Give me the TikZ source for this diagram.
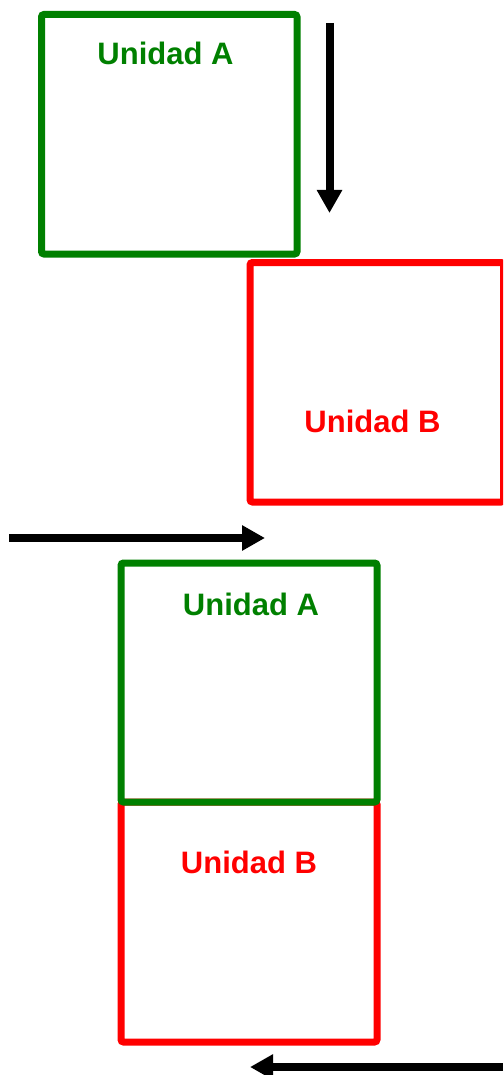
\documentclass[tikz,border=0pt]{standalone}
\usepackage{fontspec}
\setmainfont{Liberation Sans}
\usetikzlibrary{arrows.meta}
\definecolor{boxgreen}{HTML}{008000}
\definecolor{boxred}{HTML}{FF0000}
\tikzset{
  unitbox/.style={draw, line width=7pt, rounded corners=2.5pt, inner sep=0pt, outer sep=0pt, fill=none},
  unitlabel/.style={anchor=base, inner sep=0pt, font=\fontsize{31}{31}\selectfont\bfseries},
  flowarrow/.style={line width=8pt, -{Triangle[length=23pt,width=24pt]}}
}
\begin{document}
\begin{tikzpicture}[x=1pt,y=-1pt]
\useasboundingbox (0,0) rectangle (503,1075);
\begin{scope}
\clip (0,0) rectangle (503,1075);
% top pair
\node[unitbox, draw=boxgreen, minimum width=255.5pt, minimum height=239.5pt] (A1) at (169.25,134.25) {};
\node[unitlabel, text=boxgreen] (LA1) at (165.5,65) {Unidad A};
\node[unitbox, draw=boxred, minimum width=253.5pt, minimum height=239.5pt] (B1) at (376.75,382.25) {};
\node[unitlabel, text=boxred] (LB1) at (372.5,432) {Unidad B};
% bottom pair
\node[unitbox, draw=boxred, minimum width=256pt, minimum height=240pt] (B2) at (249,922) {};
\node[unitbox, draw=boxgreen, minimum width=256pt, minimum height=239pt] (A2) at (249,682.5) {};
\node[unitlabel, text=boxgreen] (LA2) at (251,615) {Unidad A};
\node[unitlabel, text=boxred] (LB2) at (249,873) {Unidad B};
% arrows
\coordinate (d1) at (329.5,23);
\coordinate (d2) at (329.5,213);
\coordinate (r1) at (9,538);
\coordinate (r2) at (265,538);
\coordinate (l1) at (503,1067);
\coordinate (l2) at (250,1067);
\draw[flowarrow] (d1) -- (d2);
\draw[flowarrow] (r1) -- (r2);
\draw[flowarrow] (l1) -- (l2);
\end{scope}
\end{tikzpicture}
\end{document}
